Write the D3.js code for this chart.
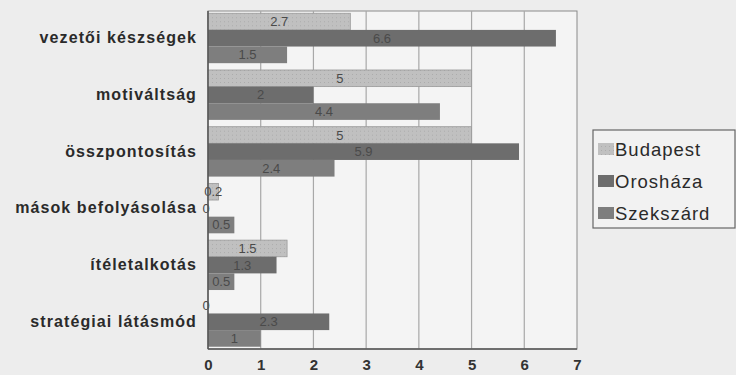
<!DOCTYPE html>
<html><head><meta charset="utf-8">
<script src="https://cdn.jsdelivr.net/npm/d3@7"></script>
<style>
html,body{margin:0;padding:0;background:#ededed;}
svg{display:block;font-family:"Liberation Sans",Arial,sans-serif;}
</style></head>
<body><svg id="c" width="736" height="375"></svg>
<script>
const categories = ["vezetői készségek","motiváltság","összpontosítás","mások befolyásolása","ítéletalkotás","stratégiai látásmód"];
const seriesNames = ["Budapest","Orosháza","Szekszárd"];
const budapest  = [2.7, 5, 5, 0.2, 1.5, 0];
const oroshaza  = [6.6, 2, 5.9, 0, 1.3, 2.3];
const szekszard = [1.5, 4.4, 2.4, 0.5, 0.5, 1];
const xTicks = [0,1,2,3,4,5,6,7];
const colors = ["#c0c0c0","#6d6d6d","#7e7e7e"];

const seriesValues = [budapest, oroshaza, szekszard];
const svg = d3.select("#c");
const pLeft = 208, pRight = 577, pTop = 11, pBottom = 349;

const x = d3.scaleLinear().domain([0,7]).range([pLeft,pRight]);
const y = d3.scaleBand().domain(categories).range([pTop,pBottom]).paddingInner(0.12).paddingOuter(0.04);
const ys = d3.scaleBand().domain(seriesNames).range([0,y.bandwidth()]);

// plot area
svg.append("rect").attr("x",pLeft).attr("y",pTop).attr("width",pRight-pLeft).attr("height",pBottom-pTop)
  .attr("fill","#f4f4f4").attr("stroke","#8a8a8a").attr("stroke-width",1);

// gridlines
svg.append("g").selectAll("line").data(xTicks.slice(1,-1)).join("line")
  .attr("x1",d=>x(d)).attr("x2",d=>x(d)).attr("y1",pTop).attr("y2",pBottom)
  .attr("stroke","#a8a8a8").attr("stroke-width",1.2);

// pattern for Budapest
const defs = svg.append("defs");
const pat = defs.append("pattern").attr("id","bp").attr("width",4).attr("height",4).attr("patternUnits","userSpaceOnUse");
pat.append("rect").attr("width",4).attr("height",4).attr("fill",colors[0]);
pat.append("rect").attr("x",0).attr("y",0).attr("width",1).attr("height",1).attr("fill","#acacac");

// bars
const groups = svg.append("g").selectAll("g").data(categories).join("g")
  .attr("transform",d=>`translate(0,${y(d)})`);
groups.each(function(cat,i){
  const g = d3.select(this);
  seriesNames.forEach((s,j)=>{
    const v = seriesValues[j][i];
    g.append("rect").attr("x",x(0)).attr("y",ys(s)).attr("width",x(v)-x(0)).attr("height",ys.bandwidth())
      .attr("fill", j===0 ? "url(#bp)" : colors[j])
      .attr("stroke", j===0 ? "#9a9a9a" : "none").attr("stroke-width",0.8);
    g.append("text").attr("x", v===0 ? x(0)-2 : (x(0)+x(v))/2).attr("y",ys(s)+ys.bandwidth()/2+4.5)
      .attr("text-anchor","middle").attr("font-size",13).attr("fill","#4a4a4a").text(v);
  });
});

// axis lines
svg.append("line").attr("x1",pLeft).attr("x2",pLeft).attr("y1",pTop).attr("y2",pBottom).attr("stroke","#555").attr("stroke-width",1.5);
svg.append("line").attr("x1",pLeft).attr("x2",pRight).attr("y1",pBottom).attr("y2",pBottom).attr("stroke","#555").attr("stroke-width",1.5);

// y axis labels
const yAxis = d3.axisLeft(y).tickSize(0).tickPadding(11);
const yg = svg.append("g").attr("transform",`translate(${pLeft},0)`).call(yAxis);
yg.select(".domain").remove();
yg.selectAll("text").attr("font-size",16).attr("font-weight","bold").attr("fill","#2a2a2a")
  .attr("letter-spacing",1.1)
  .attr("font-family","Liberation Sans, Arial, sans-serif");

// x axis
const xAxis = d3.axisBottom(x).tickValues(xTicks).tickSize(0).tickPadding(8).tickFormat(d3.format("d"));
const xg = svg.append("g").attr("transform",`translate(0,${pBottom+2})`).call(xAxis);
xg.select(".domain").remove();
xg.selectAll("text").attr("font-size",15).attr("font-weight","bold").attr("fill","#333")
  .attr("font-family","Liberation Sans, Arial, sans-serif");

// legend
const lg = svg.append("g").attr("transform","translate(593,130)");
lg.append("rect").attr("width",142).attr("height",98).attr("fill","#f2f2f2").attr("stroke","#666").attr("stroke-width",1.2);
seriesNames.forEach((s,j)=>{
  const yy = 20 + j*32;
  lg.append("rect").attr("x",5).attr("y",yy-7).attr("width",16).attr("height",12)
    .attr("fill", j===0 ? "url(#bp)" : colors[j]);
  lg.append("text").attr("x",22).attr("y",yy+6).attr("font-size",18.5).attr("letter-spacing",1)
    .attr("fill","#2a2a2a").text(s);
});
</script></body></html>
